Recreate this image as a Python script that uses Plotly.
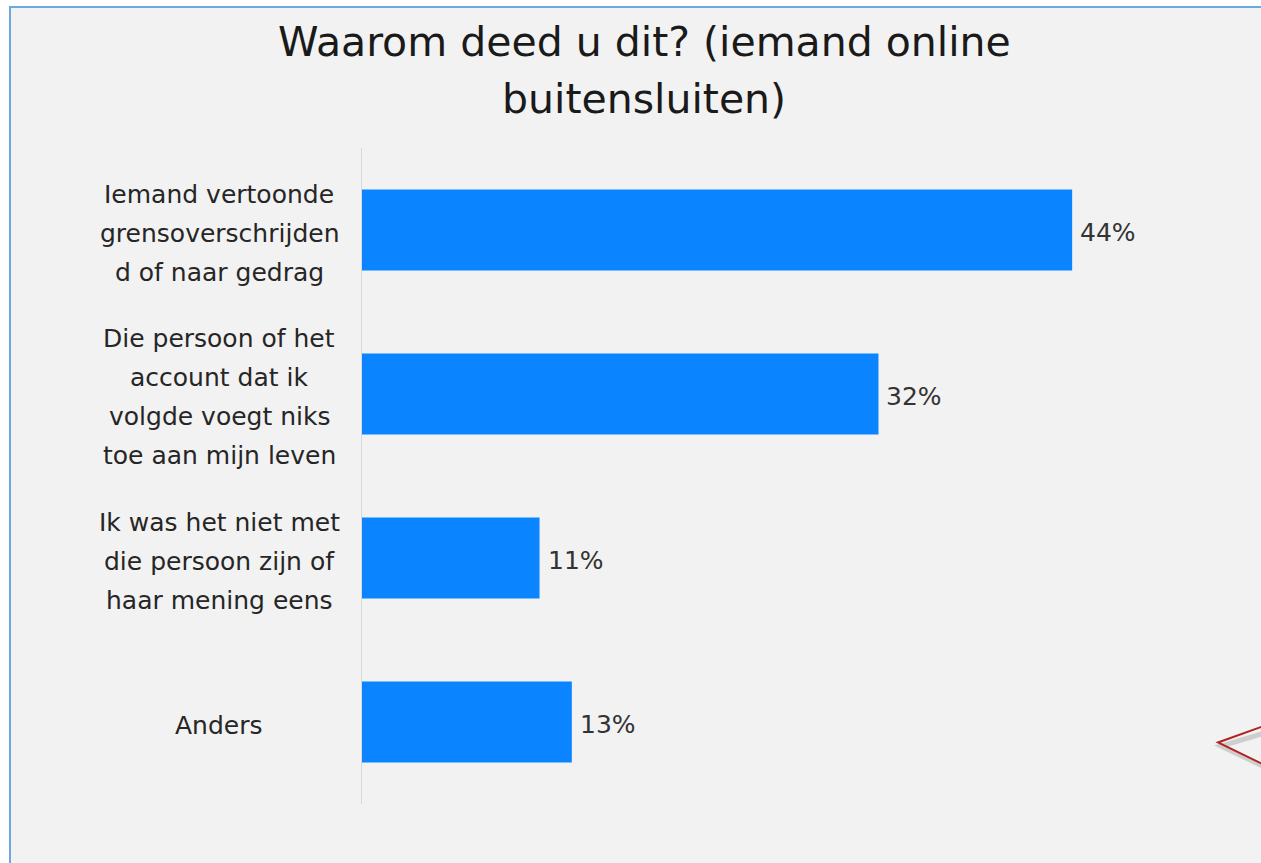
import plotly.graph_objects as go

title_lines = ["Waarom deed u dit? (iemand online", "buitensluiten)"]
categories = [
    "Iemand vertoonde\ngrensoverschrijden\nd of naar gedrag",
    "Die persoon of het\naccount dat ik\nvolgde voegt niks\ntoe aan mijn leven",
    "Ik was het niet met\ndie persoon zijn of\nhaar mening eens",
    "Anders",
]
values = [44, 32, 11, 13]
value_labels = ["44%", "32%", "11%", "13%"]

W, H = 1261, 863
L, R, T, B = 362, 31, 148, 59
PW, PH = W - L - R, H - T - B
FONT = "DejaVu Sans, Verdana, sans-serif"


def px(x):
    return (x - L) / PW


def py(y):
    return (H - B - y) / PH


fig = go.Figure()
fig.add_trace(go.Bar(
    y=categories, x=values, orientation="h",
    marker=dict(color="#0a84ff", line=dict(width=0)),
    width=0.494,
    hoverinfo="x+y",
))

annotations = []
for cat, v, lab in zip(categories, values, value_labels):
    annotations.append(dict(
        x=v, xref="x", y=cat, yref="y", text=lab, showarrow=False,
        xanchor="left", yanchor="middle", xshift=6, yshift=-2,
        font=dict(size=25, color="#333333", family=FONT),
    ))
for cat in categories:
    lines = cat.split("\n")
    n = len(lines)
    for i, ln in enumerate(lines):
        annotations.append(dict(
            x=px(219), xref="paper", y=cat, yref="y",
            text=ln, showarrow=False, xanchor="center", yanchor="middle",
            yshift=((n - 1) / 2 - i) * 39 - 3,
            font=dict(size=25, color="#262626", family=FONT),
        ))
for i, t in enumerate(title_lines):
    annotations.append(dict(
        x=px(644), xref="paper", y=py(42 + i * 57), yref="paper",
        text=t, showarrow=False, xanchor="center", yanchor="middle",
        font=dict(size=41, color="#1a1a1a", family=FONT),
    ))

shapes = [
    dict(type="rect", xref="paper", yref="paper", layer="below",
         x0=px(10), x1=px(1290), y0=py(7), y1=py(900),
         line=dict(color="#6fa8dc", width=2), fillcolor="#f2f2f2"),
    dict(type="path", xref="paper", yref="paper",
         path=f"M {px(1275)} {py(730)} L {px(1221)} {py(746)} L {px(1275)} {py(772)}",
         line=dict(color="rgba(0,0,0,0.15)", width=5)),
    dict(type="path", xref="paper", yref="paper",
         path=f"M {px(1275)} {py(722)} L {px(1218)} {py(742.5)} L {px(1275)} {py(770)}",
         line=dict(color="#b22222", width=2)),
]

fig.update_layout(
    width=W, height=H,
    margin=dict(l=L, r=R, t=T, b=B),
    paper_bgcolor="white", plot_bgcolor="rgba(0,0,0,0)",
    showlegend=False, bargap=0.5,
    xaxis=dict(range=[0, PW / 16.14], showgrid=False, zeroline=False,
               showticklabels=False, showline=False, fixedrange=True),
    yaxis=dict(autorange="reversed", showticklabels=False, showgrid=False,
               zeroline=False, showline=True, linecolor="#d9d9d9", linewidth=1,
               ticks=""),
    annotations=annotations, shapes=shapes,
)

fig.write_html("out.html", config={"displayModeBar": False},
               post_script="document.body.style.margin='0';document.body.style.overflow='hidden';")
